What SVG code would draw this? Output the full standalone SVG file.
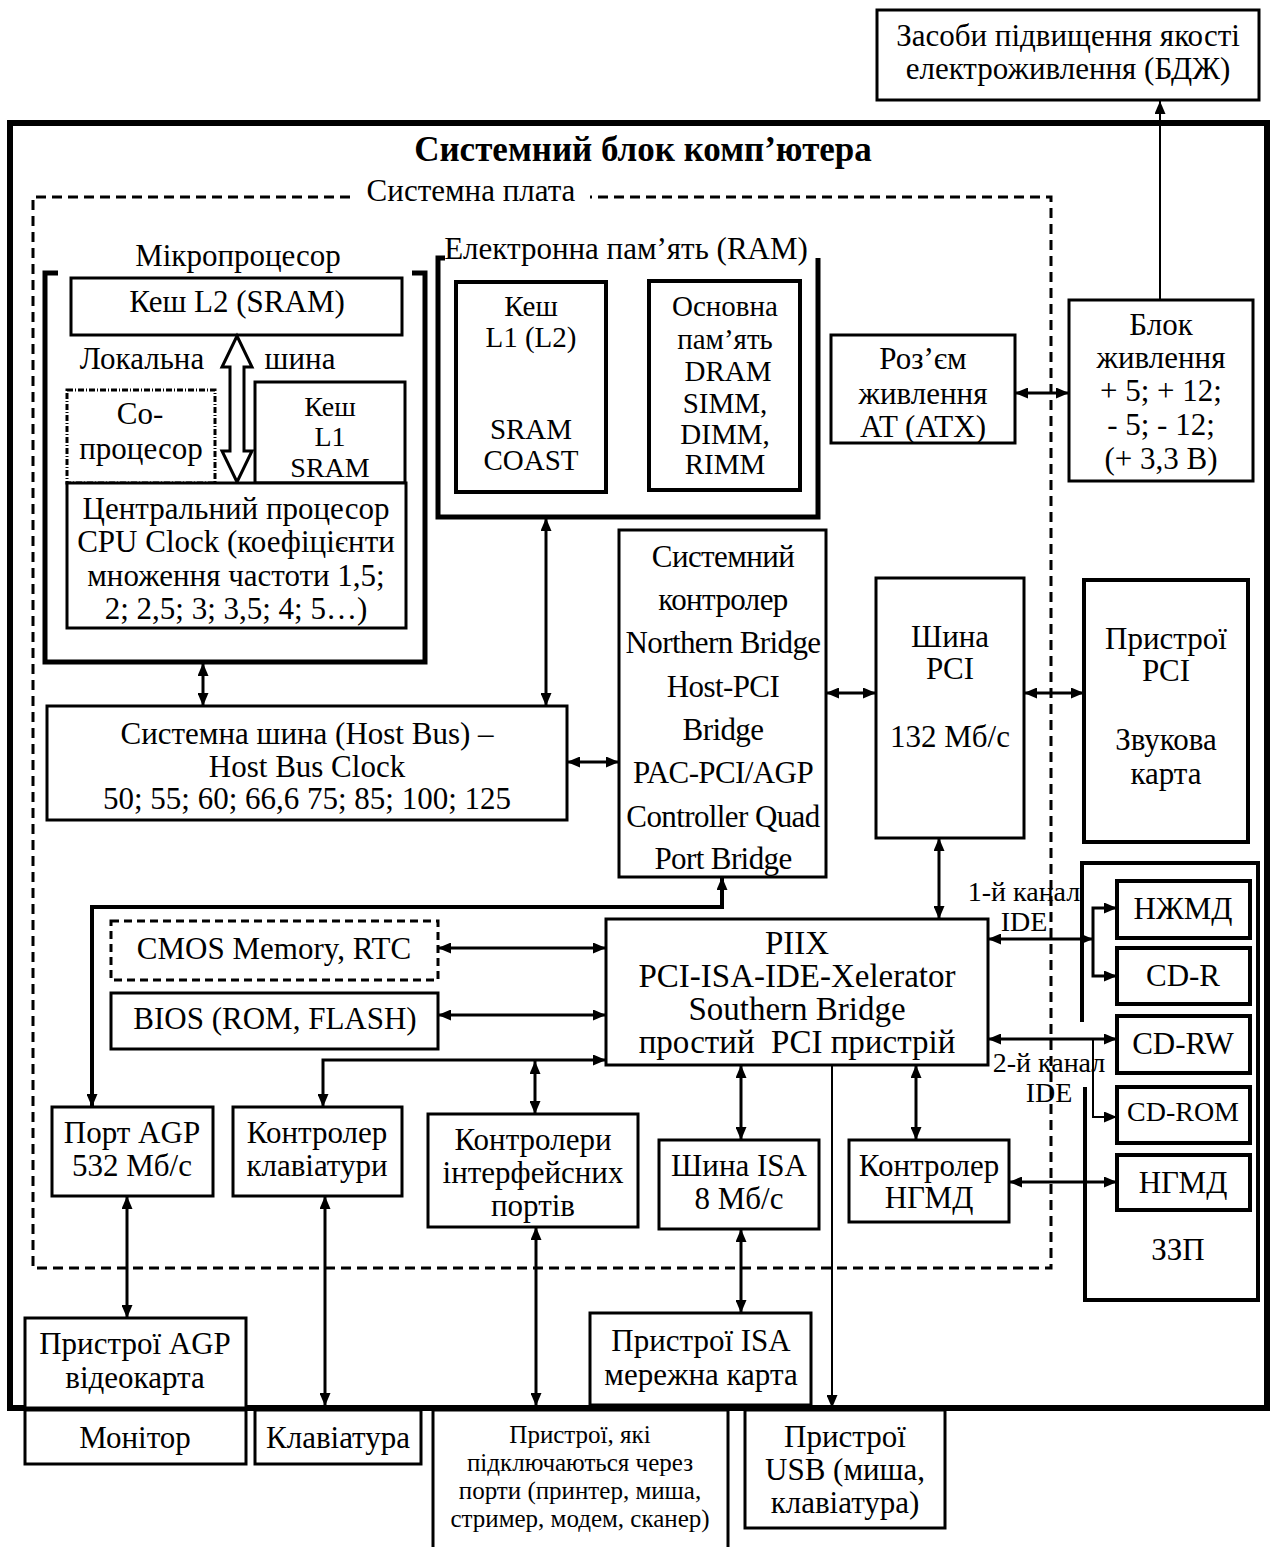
<svg xmlns="http://www.w3.org/2000/svg" width="1274" height="1547" viewBox="0 0 1274 1547">
<style>
text{font-family:"Liberation Serif","Times New Roman",serif;font-size:31px;fill:#000;text-anchor:middle}
.b{fill:#fff;stroke:#000;stroke-width:3}
.b4{fill:#fff;stroke:#000;stroke-width:4}
.c{fill:none;stroke:#000;stroke-width:3}
.t{fill:none;stroke:#000;stroke-width:2}
.s{font-size:28px}
.m{font-size:29px}
.xs{font-size:25px}
.n{font-size:30px;letter-spacing:-0.6px}
.p{font-size:33px}
</style>
<defs>
<marker id="a" viewBox="0 0 13 11" refX="13" refY="5.5" markerWidth="13" markerHeight="11" markerUnits="userSpaceOnUse" orient="auto-start-reverse"><path d="M0,0 L13,5.5 L0,11 z" fill="#000"/></marker>
</defs>
<rect width="1274" height="1547" fill="#fff"/>

<g id="outer">
<rect x="10" y="123" width="1257" height="1285" fill="none" stroke="#000" stroke-width="6"/>
<text x="643" y="161" style="font-weight:bold;font-size:35px">Системний блок комп’ютера</text>
</g>

<g id="plate">
<path d="M350,197 H33 V1268 H1051 V197 H590" fill="none" stroke="#000" stroke-width="3" stroke-dasharray="10,6"/>
<text x="471" y="201">Системна плата</text>
</g>

<g id="ups">
<rect class="b" x="877" y="10" width="382" height="90"/>
<text x="1068" y="46">Засоби підвищення якості</text>
<text x="1068" y="79">електроживлення (БДЖ)</text>
</g>

<g id="cpu-group">
<path d="M58,273 H45 V662 H425 V273 H412" fill="none" stroke="#000" stroke-width="5"/>
<text x="238" y="266">Мікропроцесор</text>
</g>
<g id="l2">
<rect class="b" x="71" y="278" width="331" height="57"/>
<text x="237" y="312">Кеш L2 (SRAM)</text>
</g>
<g id="localbus">
<text x="142" y="369">Локальна</text>
<text x="300" y="369">шина</text>
<path d="M237,336 L252,367 L244,367 L244,451 L252,451 L237,482 L222,451 L230,451 L230,367 L222,367 Z" fill="#fff" stroke="#000" stroke-width="3"/>
</g>
<g id="copro">
<rect x="67" y="390" width="148" height="93" fill="#fff" stroke="#000" stroke-width="3" stroke-dasharray="6,2,1,2"/>
<text x="140" y="424">Со-</text>
<text x="141" y="459">процесор</text>
</g>
<g id="l1">
<rect class="b" x="255" y="382" width="150" height="101"/>
<text class="s" x="330" y="416">Кеш</text>
<text class="s" x="330" y="446">L1</text>
<text class="s" x="330" y="477">SRAM</text>
</g>
<g id="cpu">
<rect class="b" x="67" y="483" width="339" height="145"/>
<text x="236" y="519">Центральний процесор</text>
<text x="236" y="552">CPU Clock (коефіцієнти</text>
<text x="236" y="586">множення частоти 1,5;</text>
<text x="236" y="619">2; 2,5; 3; 3,5; 4; 5…)</text>
</g>

<g id="ram-group">
<path d="M445,258 H438 V517 H818 V258" fill="none" stroke="#000" stroke-width="5"/>
<text x="626" y="259">Електронна пам’ять (RAM)</text>
</g>
<g id="cache-ram">
<rect class="b4" x="456" y="282" width="150" height="210"/>
<text class="m" x="531" y="316">Кеш</text>
<text class="m" x="531" y="347">L1 (L2)</text>
<text class="m" x="531" y="439">SRAM</text>
<text class="m" x="531" y="470">COAST</text>
</g>
<g id="mainmem">
<rect class="b4" x="649" y="281" width="151" height="209"/>
<text class="m" x="725" y="316">Основна</text>
<text class="m" x="725" y="349">пам’ять</text>
<text class="m" x="728" y="381">DRAM</text>
<text class="m" x="725" y="413">SIMM,</text>
<text class="m" x="725" y="444">DIMM,</text>
<text class="m" x="725" y="474">RIMM</text>
</g>

<g id="connector-power">
<rect class="b" x="831" y="335" width="184" height="108"/>
<text x="923" y="369">Роз’єм</text>
<text x="923" y="404">живлення</text>
<text x="923" y="437">AT (ATX)</text>
</g>
<g id="psu">
<rect class="b" x="1069" y="300" width="184" height="181"/>
<text x="1161" y="335">Блок</text>
<text x="1161" y="368">живлення</text>
<text x="1161" y="401">+ 5; + 12;</text>
<text x="1161" y="435">- 5; - 12;</text>
<text x="1161" y="469">(+ 3,3 В)</text>
</g>

<g id="hostbus">
<rect class="b" x="47" y="706" width="520" height="114"/>
<text x="307" y="744">Системна шина (Host Bus) –</text>
<text x="307" y="777">Host Bus Clock</text>
<text x="307" y="809">50; 55; 60; 66,6 75; 85; 100; 125</text>
</g>

<g id="northbridge">
<rect class="b" x="619" y="530" width="207" height="347"/>
<g class="n">
<text x="723" y="567">Системний</text>
<text x="723" y="610">контролер</text>
<text x="723" y="653">Northern Bridge</text>
<text x="723" y="697">Host-PCI</text>
<text x="723" y="740">Bridge</text>
<text x="723" y="783">PAC-PCI/AGP</text>
<text x="723" y="827">Controller Quad</text>
<text x="723" y="869">Port Bridge</text>
</g>
</g>

<g id="pcibus">
<rect class="b" x="876" y="578" width="148" height="260"/>
<text x="950" y="647">Шина</text>
<text x="950" y="679">PCI</text>
<text x="950" y="747">132 Мб/с</text>
</g>
<g id="pcidev">
<rect class="b4" x="1084" y="580" width="164" height="262"/>
<text x="1166" y="649">Пристрої</text>
<text x="1166" y="681">PCI</text>
<text x="1166" y="750">Звукова</text>
<text x="1166" y="784">карта</text>
</g>

<g id="cmos">
<rect x="111" y="921" width="327" height="59" fill="#fff" stroke="#000" stroke-width="3" stroke-dasharray="8,5"/>
<text x="274" y="959">CMOS Memory, RTC</text>
</g>
<g id="bios">
<rect class="b" x="111" y="993" width="327" height="56"/>
<text x="275" y="1029">BIOS (ROM, FLASH)</text>
</g>

<g id="piix">
<rect class="b" x="606" y="919" width="382" height="146"/>
<text class="p" x="797" y="954">PIIX</text>
<text class="p" x="797" y="987">PCI-ISA-IDE-Xelerator</text>
<text class="p" x="797" y="1020">Southern Bridge</text>
<text class="p" x="797" y="1053" xml:space="preserve">простий  PCI пристрій</text>
</g>

<g id="agpport">
<rect class="b" x="52" y="1107" width="161" height="89"/>
<text x="132" y="1143">Порт AGP</text>
<text x="132" y="1176">532 Мб/с</text>
</g>
<g id="kbctrl">
<rect class="b" x="233" y="1107" width="169" height="89"/>
<text x="317" y="1143">Контролер</text>
<text x="317" y="1176">клавіатури</text>
</g>
<g id="portctrl">
<rect class="b" x="428" y="1114" width="210" height="113"/>
<text x="533" y="1150">Контролери</text>
<text x="533" y="1183">інтерфейсних</text>
<text x="533" y="1216">портів</text>
</g>
<g id="isabus">
<rect class="b" x="659" y="1140" width="160" height="89"/>
<text x="739" y="1176">Шина ISA</text>
<text x="739" y="1209">8 Мб/с</text>
</g>
<g id="fddctrl">
<rect class="b" x="849" y="1140" width="160" height="82"/>
<text x="929" y="1176">Контролер</text>
<text x="929" y="1208">НГМД</text>
</g>

<g id="storage">
<path d="M1082,1022 V863 H1258 V1300 H1085 V1087" fill="none" stroke="#000" stroke-width="4"/>
<text x="1178" y="1260">ЗЗП</text>
</g>
<g id="hdd"><rect class="b4" x="1117" y="881" width="133" height="57"/><text x="1183" y="919">НЖМД</text></g>
<g id="cdr"><rect class="b4" x="1117" y="948" width="133" height="56"/><text x="1183" y="986">CD-R</text></g>
<g id="cdrw"><rect class="b4" x="1117" y="1016" width="133" height="57"/><text x="1183" y="1054">CD-RW</text></g>
<g id="cdrom"><rect class="b4" x="1117" y="1087" width="133" height="56"/><text class="s" x="1183" y="1121">CD-ROM</text></g>
<g id="fdd"><rect class="b4" x="1117" y="1155" width="133" height="55"/><text x="1183" y="1193">НГМД</text></g>

<g id="ide-labels">
<text class="s" x="1024" y="901">1-й канал</text>
<text class="s" x="1024" y="931">IDE</text>
<text class="s" x="1049" y="1072">2-й канал</text>
<text class="s" x="1049" y="1102">IDE</text>
</g>

<g id="agpdev">
<rect class="b" x="25" y="1318" width="221" height="90"/>
<text x="135" y="1354">Пристрої AGP</text>
<text x="135" y="1388">відеокарта</text>
</g>
<g id="isadev">
<rect class="b" x="590" y="1313" width="221" height="92"/>
<text x="701" y="1351">Пристрої ISA</text>
<text x="701" y="1385">мережна карта</text>
</g>

<g id="monitor">
<rect class="b" x="25" y="1410" width="221" height="54"/>
<text x="135" y="1448">Монітор</text>
</g>
<g id="keyboard">
<rect class="b" x="255" y="1410" width="166" height="54"/>
<text x="338" y="1448">Клавіатура</text>
</g>
<g id="portdev">
<rect class="b" x="433" y="1410" width="295" height="150"/>
<text class="xs" x="580" y="1443">Пристрої, які</text>
<text class="xs" x="580" y="1471">підключаються через</text>
<text class="xs" x="580" y="1499">порти (принтер, миша,</text>
<text class="xs" x="580" y="1527">стример, модем, сканер)</text>
</g>
<g id="usbdev">
<rect class="b" x="745" y="1410" width="200" height="118"/>
<text x="845" y="1447">Пристрої</text>
<text x="845" y="1480">USB (миша,</text>
<text x="845" y="1513">клавіатура)</text>
</g>

<g id="connectors">
<path class="t" d="M1160,299 V101" marker-end="url(#a)"/>
<path class="c" d="M1015,393 H1069" marker-start="url(#a)" marker-end="url(#a)"/>
<path class="c" d="M546,518 V706" marker-start="url(#a)" marker-end="url(#a)"/>
<path class="c" d="M203,663 V706" marker-start="url(#a)" marker-end="url(#a)"/>
<path class="c" d="M567,762 H619" marker-start="url(#a)" marker-end="url(#a)"/>
<path class="c" d="M826,693 H876" marker-start="url(#a)" marker-end="url(#a)"/>
<path class="c" d="M1024,693 H1084" marker-start="url(#a)" marker-end="url(#a)"/>
<path class="c" d="M939,838 V919" marker-start="url(#a)" marker-end="url(#a)"/>
<path fill="none" stroke="#000" stroke-width="4" d="M722,877 V907 H92 V1107" marker-start="url(#a)" marker-end="url(#a)"/>
<path class="c" d="M438,948 H606" marker-start="url(#a)" marker-end="url(#a)"/>
<path class="c" d="M438,1015 H606" marker-start="url(#a)" marker-end="url(#a)"/>
<path class="c" d="M606,1060 H323 V1107" marker-start="url(#a)" marker-end="url(#a)"/>
<path class="c" d="M535,1061 V1114" marker-start="url(#a)" marker-end="url(#a)"/>
<path class="c" d="M741,1065 V1140" marker-start="url(#a)" marker-end="url(#a)"/>
<path class="c" d="M916,1065 V1140" marker-start="url(#a)" marker-end="url(#a)"/>
<path class="t" d="M832,1065 V1408" marker-end="url(#a)"/>
<path class="c" d="M1009,1182 H1117" marker-start="url(#a)" marker-end="url(#a)"/>
<path class="c" d="M741,1229 V1313" marker-start="url(#a)" marker-end="url(#a)"/>
<path class="c" d="M127,1196 V1318" marker-start="url(#a)" marker-end="url(#a)"/>
<path class="c" d="M325,1196 V1406" marker-start="url(#a)" marker-end="url(#a)"/>
<path class="c" d="M536,1227 V1406" marker-start="url(#a)" marker-end="url(#a)"/>
<path class="c" d="M988,939 H1093" marker-start="url(#a)" marker-end="url(#a)"/>
<path class="c" d="M1117,908 H1093 V976 H1117" marker-start="url(#a)" marker-end="url(#a)"/>
<path class="c" d="M988,1039 H1117" marker-start="url(#a)" marker-end="url(#a)"/>
<path class="t" d="M1093,1039 V1117 H1117" marker-end="url(#a)"/>
</g>
</svg>
